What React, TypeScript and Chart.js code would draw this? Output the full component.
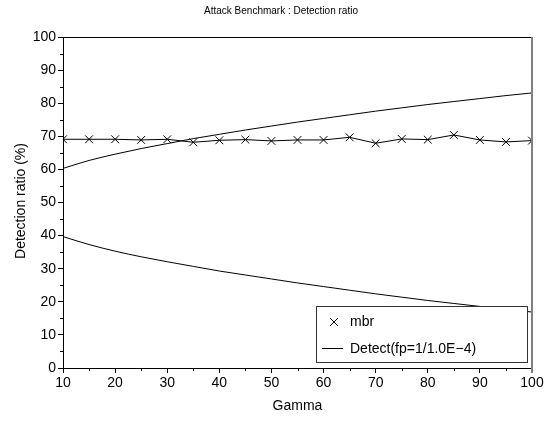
import React, { useEffect, useRef } from "react";
import { Chart, registerables } from "chart.js";

Chart.register(...registerables);

const gamma = [10, 15, 20, 25, 30, 35, 40, 45, 50, 55, 60, 65, 70, 75, 80, 85, 90, 95, 100];
const mbr = [69.1, 69.1, 69.1, 68.9, 69.1, 68.2, 68.8, 69.0, 68.6, 68.9, 68.9, 69.7, 67.9, 69.2, 69.0, 70.4, 68.9, 68.3, 68.7];
const detectUpper = [60.3, 62.7, 64.6, 66.3, 67.8, 69.3, 70.6, 71.9, 73.1, 74.3, 75.4, 76.5, 77.6, 78.6, 79.6, 80.5, 81.4, 82.3, 83.1];
const detectLower = [39.7, 37.3, 35.3, 33.6, 32.1, 30.7, 29.3, 28.1, 26.9, 25.7, 24.6, 23.5, 22.4, 21.4, 20.4, 19.5, 18.6, 17.8, 16.9];
const xMinorTicks = [15, 25, 35, 45, 55, 65, 75, 85, 95];
const yMinorTicks = [5, 15, 25, 35, 45, 55, 65, 75, 85, 95];

const chartTitle = "Attack Benchmark : Detection ratio";
const xTitle = "Gamma";
const yTitle = "Detection ratio (%)";
const mbrLabel = "mbr";
const detectLabel = "Detect(fp=1/1.0E\u22124)";

const FONT = "'Liberation Sans', Arial, Helvetica, sans-serif";

const decorations = {
  id: "decorations",
  afterDraw(chart: any) {
    const { ctx, chartArea: a, scales } = chart;
    const x = scales.x;
    const y = scales.y;
    ctx.save();
    // top border
    ctx.strokeStyle = "#000";
    ctx.lineWidth = 1;
    ctx.beginPath();
    ctx.moveTo(a.left, Math.round(a.top) + 0.5);
    ctx.lineTo(a.right, Math.round(a.top) + 0.5);
    ctx.stroke();
    // right border (gray)
    ctx.strokeStyle = "#808080";
    ctx.lineWidth = 2;
    ctx.beginPath();
    ctx.moveTo(Math.round(a.right), a.top);
    ctx.lineTo(Math.round(a.right), a.bottom + 5);
    ctx.stroke();
    // minor ticks
    ctx.strokeStyle = "#000";
    ctx.lineWidth = 1;
    ctx.beginPath();
    xMinorTicks.forEach((v) => {
      const px = Math.round(x.getPixelForValue(v)) + 0.5;
      ctx.moveTo(px, a.bottom);
      ctx.lineTo(px, a.bottom + 3);
    });
    yMinorTicks.forEach((v) => {
      const py = Math.round(y.getPixelForValue(v)) + 0.5;
      ctx.moveTo(a.left - 3, py);
      ctx.lineTo(a.left, py);
    });
    ctx.stroke();

    // titles
    ctx.fillStyle = "#000";
    ctx.textAlign = "center";
    ctx.textBaseline = "middle";
    ctx.font = `10px ${FONT}`;
    ctx.fillText(chartTitle, 281, 11);
    ctx.font = `14px ${FONT}`;
    ctx.fillText(xTitle, (a.left + a.right) / 2, 406);
    ctx.save();
    ctx.translate(21, 201);
    ctx.rotate(-Math.PI / 2);
    ctx.fillText(yTitle, 0, 0);
    ctx.restore();

    // legend box
    const lw = 211;
    const lh = 56;
    const lx = Math.round(a.right) - 5 - lw;
    const ly = Math.round(a.bottom) - 6 - lh;
    ctx.fillStyle = "#fff";
    ctx.fillRect(lx, ly, lw, lh);
    ctx.strokeStyle = "#333";
    ctx.lineWidth = 1;
    ctx.strokeRect(lx + 0.5, ly + 0.5, lw, lh);
    // item 1: cross marker
    const r1 = ly + 16;
    const cx = lx + 18;
    ctx.strokeStyle = "#000";
    ctx.beginPath();
    ctx.moveTo(cx - 4, r1 - 4);
    ctx.lineTo(cx + 4, r1 + 4);
    ctx.moveTo(cx - 4, r1 + 4);
    ctx.lineTo(cx + 4, r1 - 4);
    ctx.stroke();
    ctx.fillStyle = "#000";
    ctx.textAlign = "left";
    ctx.font = `14px ${FONT}`;
    ctx.fillText(mbrLabel, lx + 34, r1);
    // item 2: line
    const r2 = ly + 42;
    ctx.beginPath();
    ctx.moveTo(lx + 6, r2 + 0.5);
    ctx.lineTo(lx + 27, r2 + 0.5);
    ctx.stroke();
    ctx.fillText(detectLabel, lx + 34, r2 + 1);
    ctx.restore();
  },
};

export default function App() {
  const canvasRef = useRef<HTMLCanvasElement | null>(null);

  useEffect(() => {
    const canvas = canvasRef.current;
    if (!canvas) return;
    Chart.defaults.font.family = FONT;
    Chart.defaults.color = "#000";
    const chart = new Chart(canvas, {
      type: "line",
      data: {
        datasets: [
          {
            label: mbrLabel,
            data: gamma.map((g, i) => ({ x: g, y: mbr[i] })),
            borderColor: "#000",
            borderWidth: 1,
            pointStyle: "crossRot",
            pointRadius: 5.5,
            pointBorderColor: "#000",
            pointBorderWidth: 1,
            fill: false,
            tension: 0,
          },
          {
            label: detectLabel,
            data: gamma.map((g, i) => ({ x: g, y: detectUpper[i] })),
            borderColor: "#000",
            borderWidth: 1,
            pointRadius: 0,
            fill: false,
            cubicInterpolationMode: "monotone",
          },
          {
            label: detectLabel,
            data: gamma.map((g, i) => ({ x: g, y: detectLower[i] })),
            borderColor: "#000",
            borderWidth: 1,
            pointRadius: 0,
            fill: false,
            cubicInterpolationMode: "monotone",
          },
        ],
      },
      options: {
        responsive: false,
        animation: false,
        devicePixelRatio: 1,
        layout: { padding: { top: 37, right: 22, left: 0, bottom: 0 } },
        plugins: {
          legend: { display: false },
          title: { display: false },
          tooltip: { enabled: false },
        },
        scales: {
          x: {
            type: "linear",
            min: 10,
            max: 100,
            afterFit: (s: any) => {
              s.height = 53;
            },
            ticks: { stepSize: 10, font: { size: 14 }, padding: 2, color: "#000", maxRotation: 0 },
            grid: { drawOnChartArea: false, drawTicks: true, tickLength: 5, color: "#000" },
            border: { display: true, color: "#000", width: 1 },
          },
          y: {
            type: "linear",
            min: 0,
            max: 100,
            afterFit: (s: any) => {
              s.width = 63;
            },
            ticks: { stepSize: 10, font: { size: 14 }, padding: 2, color: "#000" },
            grid: { drawOnChartArea: false, drawTicks: true, tickLength: 5, color: "#000" },
            border: { display: true, color: "#000", width: 1 },
          },
        },
      },
      plugins: [decorations],
    } as any);
    return () => chart.destroy();
  }, []);

  return (
    <div style={{ position: "fixed", left: 0, top: 0, width: 554, height: 421, background: "#fff" }}>
      <canvas ref={canvasRef} width={554} height={421} style={{ display: "block" }} />
    </div>
  );
}
